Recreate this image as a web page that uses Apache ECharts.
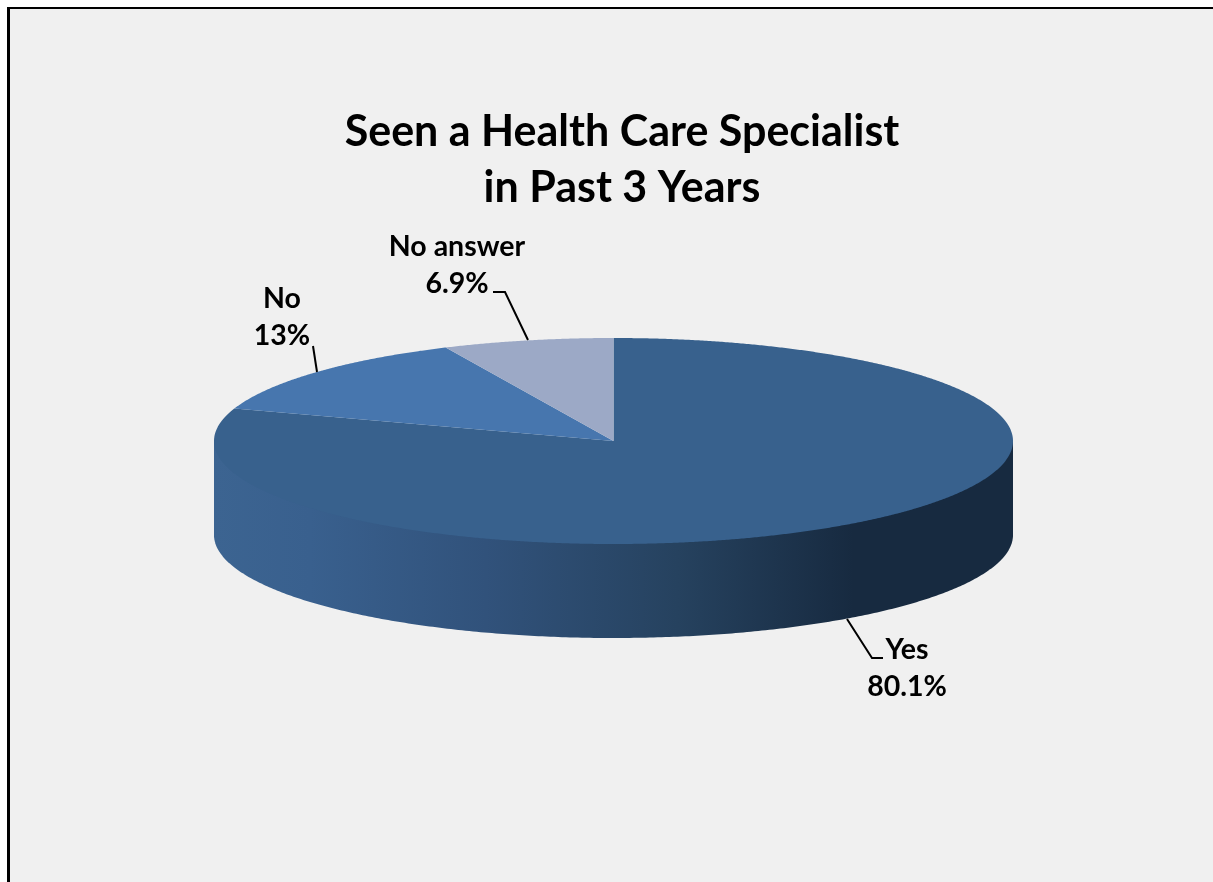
<!DOCTYPE html>
<html>
<head>
<meta charset="utf-8">
<title>Seen a Health Care Specialist</title>
<script src="https://cdn.jsdelivr.net/npm/echarts@6/dist/echarts.min.js"></script>
<style>
  html, body { margin: 0; padding: 0; background: #fff; }
  #main { width: 1213px; height: 882px; }
</style>
</head>
<body>
<div id="main"></div>
<script>
const categories = ['Yes', 'No', 'No answer'];
const shares = [80.1, 13, 6.9];
const shareLabels = ['80.1%', '13%', '6.9%'];
const sliceColors = ['#38618d', '#4776ae', '#9ca9c6'];

/* pie geometry, tilted disc */
const cx = 613.5, cy = 441, rx = 399.5, ry = 103, depth = 94;
const FONT = 'Lato, "Open Sans", sans-serif';

// label anchor and leader line, same order as categories
const labelSpots = [
  { x: 907, y: 668, line: [[847, 619], [872, 658], [883, 658]] },
  { x: 282, y: 317, line: [[313, 346], [317, 372]] },
  { x: 457, y: 265, line: [[493, 292], [505, 292], [528, 340]] }
];

const total = shares.reduce((a, b) => a + b, 0);

const pointAt = (t, dy) => [cx + rx * Math.sin(t), cy - ry * Math.cos(t) + (dy || 0)];

const renderSlice = (params, api) => {
  const i = params.dataIndex;
  let before = 0;
  for (let k = 0; k < i; k++) before += shares[k];
  const a0 = before / total * Math.PI * 2;
  const a1 = (before + api.value(0)) / total * Math.PI * 2;
  const children = [];

  // front wall: only the part that faces the viewer, top edge hides under the top face
  const w0 = Math.max(a0, Math.PI / 2), w1 = Math.min(a1, Math.PI * 1.5);
  if (w1 > w0) {
    const wall = [];
    for (let t = w0; t < w1; t += 0.01) wall.push(pointAt(t, depth));
    wall.push(pointAt(w1, depth));
    wall.push(pointAt(w1));
    wall.push(pointAt(w0));
    children.push({
      type: 'polygon',
      shape: { points: wall },
      style: {
        fill: {
          type: 'linear', x: 1, y: 0, x2: 0, y2: 0,
          colorStops: [
            { offset: 0, color: '#172a40' },
            { offset: 0.2, color: '#172a40' },
            { offset: 0.42, color: '#26425f' },
            { offset: 0.66, color: '#31527b' },
            { offset: 0.88, color: '#39608e' },
            { offset: 1, color: '#3c6491' }
          ]
        }
      }
    });
  }

  // top face
  const pts = [[cx, cy]];
  for (let t = a0; t < a1; t += 0.005) pts.push(pointAt(t));
  pts.push(pointAt(a1));
  children.push({
    type: 'polygon',
    z2: 5,
    shape: { points: pts },
    style: { fill: sliceColors[i] }
  });

  // leader + label
  const spot = labelSpots[i];
  children.push({
    type: 'polyline',
    z2: 6,
    shape: { points: spot.line },
    style: { stroke: '#000', lineWidth: 2, fill: null }
  });
  children.push({
    type: 'text',
    z2: 6,
    x: spot.x,
    y: spot.y,
    style: {
      text: categories[i] + '\n' + shareLabels[i],
      align: 'center',
      verticalAlign: 'middle',
      font: 'bold 28.5px ' + FONT,
      lineHeight: 37,
      fill: '#000'
    }
  });
  return { type: 'group', children };
};

const chart = echarts.init(document.getElementById('main'), null, { renderer: 'canvas' });
chart.setOption({
  backgroundColor: '#fff',
  animation: false,
  graphic: [
    { type: 'rect', z: -10, shape: { x: 9, y: 8, width: 1204, height: 874 }, style: { fill: '#f0f0f0' } },
    { type: 'rect', z: -9, shape: { x: 7, y: 7, width: 1206, height: 2 }, style: { fill: '#000' } },
    { type: 'rect', z: -9, shape: { x: 7, y: 7, width: 3, height: 875 }, style: { fill: '#000' } }
  ],
  title: {
    text: 'Seen a Health Care Specialist\nin Past 3 Years',
    left: 617,
    top: 99,
    textAlign: 'center',
    textStyle: {
      fontFamily: FONT,
      fontSize: 43,
      fontWeight: 'bold',
      lineHeight: 56,
      color: '#000'
    }
  },
  series: [{
    type: 'custom',
    coordinateSystem: 'none',
    renderItem: renderSlice,
    data: shares.map((v) => [v])
  }]
});
</script>
</body>
</html>
